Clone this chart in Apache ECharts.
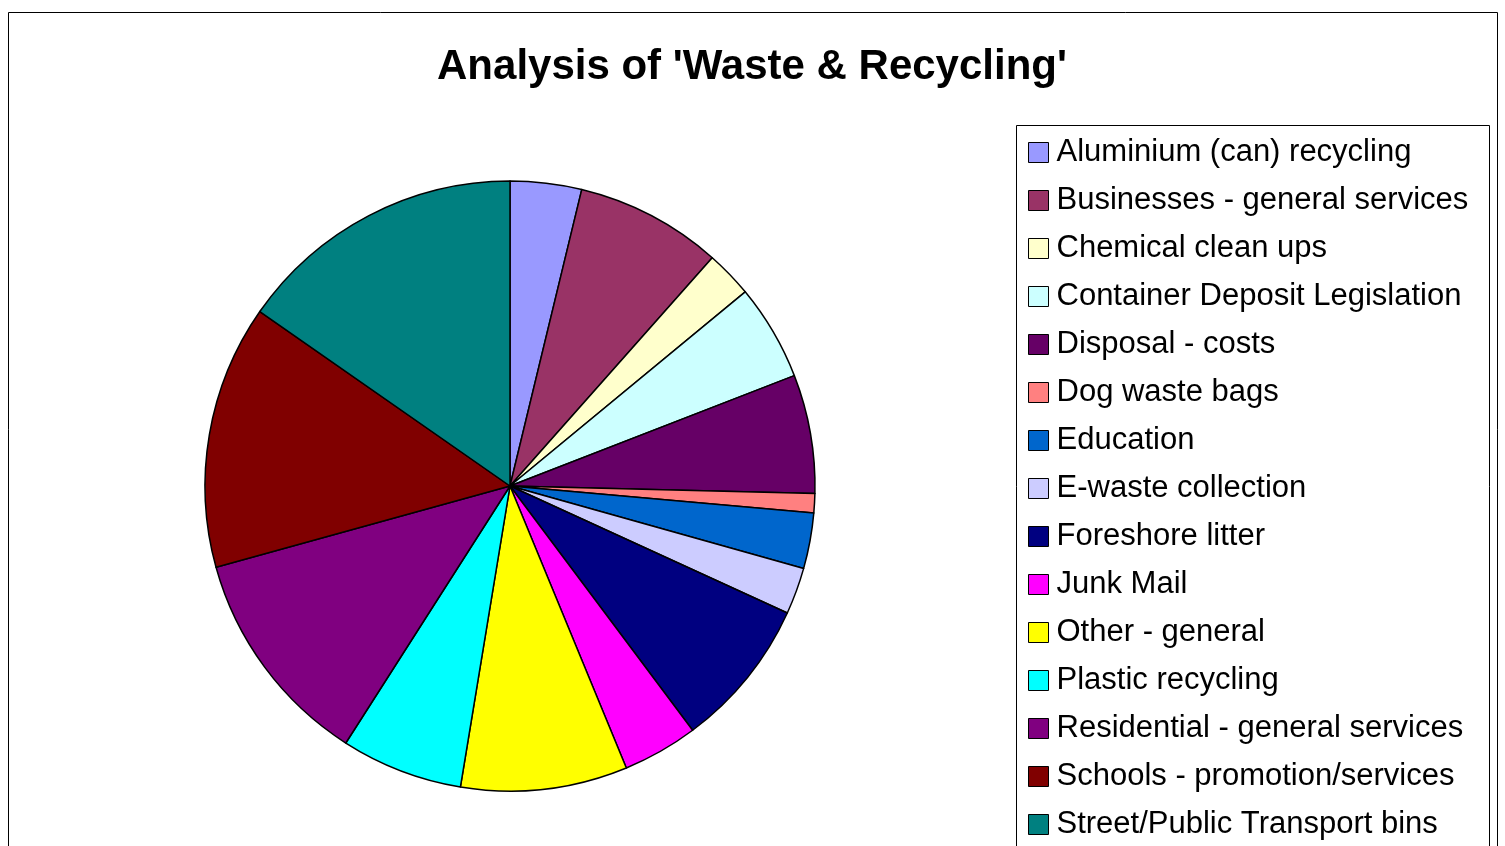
<!DOCTYPE html>
<html><head><meta charset="utf-8">
<script src="https://cdn.jsdelivr.net/npm/echarts@6/dist/echarts.min.js"></script>
<style>html,body{margin:0;padding:0;background:#fff}#c{width:1505px;height:846px}</style>
</head><body><div id="c"></div>
<script>
const categories = ["Aluminium (can) recycling","Businesses - general services","Chemical clean ups","Container Deposit Legislation","Disposal - costs","Dog waste bags","Education","E-waste collection","Foreshore litter","Junk Mail","Other - general","Plastic recycling","Residential - general services","Schools - promotion/services","Street/Public Transport bins"];
const values = [3.78, 7.76, 2.48, 5.09, 6.28, 1.02, 2.95, 2.48, 7.95, 3.99, 8.83, 6.45, 11.66, 13.99, 15.31];
const colors = ["#9999FF","#993366","#FFFFCC","#CCFFFF","#660066","#FF8080","#0066CC","#CCCCFF","#000080","#FF00FF","#FFFF00","#00FFFF","#800080","#800000","#008080"];
const titleText = "Analysis of 'Waste & Recycling'";

const chart = echarts.init(document.getElementById('c'));
chart.setOption({
  animation:false,
  backgroundColor:'#fff',
  color: colors,
  title:{text:titleText,left:752,top:46,textAlign:'center',padding:0,
    textStyle:{fontFamily:'Liberation Sans, Arial',fontSize:42,lineHeight:42,fontWeight:'bold',color:'#000'}},
  graphic:[
    {type:'rect',shape:{x:8.5,y:12.5,width:1489,height:900},style:{fill:'none',stroke:'#000',lineWidth:1},z:-10},
    {type:'rect',shape:{x:1016.5,y:125.5,width:473,height:800},style:{fill:'#fff',stroke:'#000',lineWidth:1},z:-5}
  ],
  legend:{
    orient:'vertical',left:1028,top:137,height:900,padding:0,itemGap:17,
    itemWidth:20,itemHeight:20,icon:'rect',
    itemStyle:{borderColor:'#000',borderWidth:1},
    textStyle:{fontFamily:'Liberation Sans, Arial',fontSize:31,color:'#000',padding:[0,0,0,3]},
    data:categories
  },
  series:[{
    type:'pie',center:[510,486],radius:305,startAngle:90,clockwise:true,
    label:{show:false},labelLine:{show:false},
    emphasis:{disabled:true},
    itemStyle:{borderColor:'#000',borderWidth:1.5},
    data:categories.map((n,i)=>({name:n,value:values[i]}))
  }]
});
</script></body></html>
